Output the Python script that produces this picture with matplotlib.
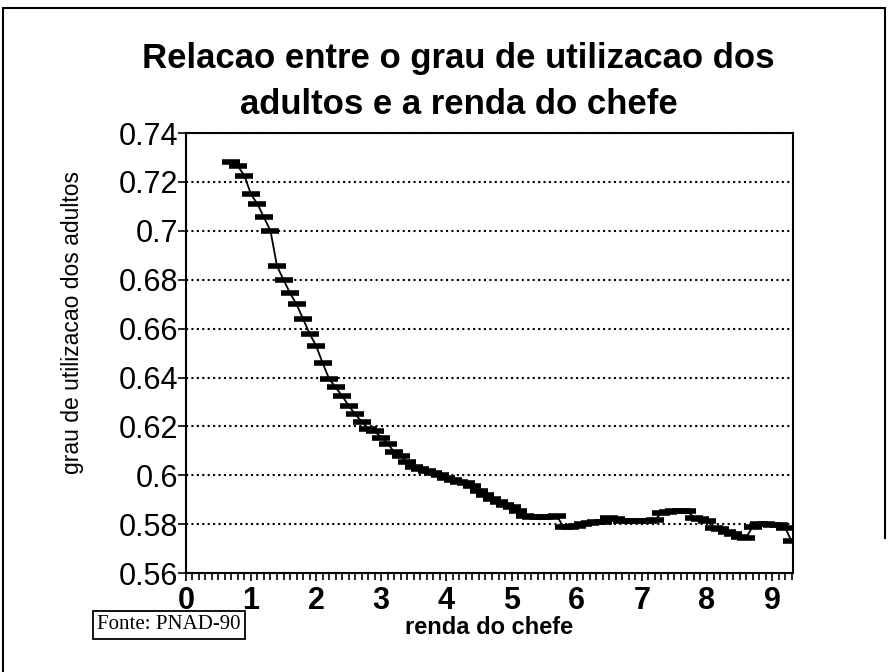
import numpy as np
import matplotlib
matplotlib.use("Agg")
import matplotlib.pyplot as plt
from matplotlib.lines import Line2D

# renda do chefe (x) and grau de utilizacao dos adultos (y)
renda = [0.7, 0.8, 0.9, 1.0, 1.1, 1.2, 1.3, 1.4, 1.5, 1.6,
         1.7, 1.8, 1.9, 2.0, 2.1, 2.2, 2.3, 2.4, 2.5, 2.6,
         2.7, 2.8, 2.9, 3.0, 3.1, 3.2, 3.3, 3.4, 3.5, 3.6,
         3.7, 3.8, 3.9, 4.0, 4.1, 4.2, 4.3, 4.4, 4.5, 4.6,
         4.7, 4.8, 4.9, 5.0, 5.1, 5.2, 5.3, 5.4, 5.5, 5.6,
         5.7, 5.8, 5.9, 6.0, 6.1, 6.2, 6.3, 6.4, 6.5, 6.6,
         6.7, 6.8, 6.9, 7.0, 7.1, 7.2, 7.3, 7.4, 7.5, 7.6,
         7.7, 7.8, 7.9, 8.0, 8.1, 8.2, 8.3, 8.4, 8.5, 8.6,
         8.7, 8.8, 8.9, 9.0, 9.1, 9.2, 9.3]
grau = [0.7280, 0.7265, 0.7225, 0.7150, 0.7110, 0.7055, 0.7000, 0.6856, 0.6800, 0.6745,
        0.6700, 0.6640, 0.6580, 0.6530, 0.6460, 0.6395, 0.6360, 0.6325, 0.6285, 0.6250,
        0.6220, 0.6190, 0.6180, 0.6155, 0.6130, 0.6095, 0.6080, 0.6055, 0.6035, 0.6025,
        0.6020, 0.6010, 0.6000, 0.5990, 0.5980, 0.5975, 0.5970, 0.5957, 0.5935, 0.5920,
        0.5905, 0.5890, 0.5880, 0.5872, 0.5855, 0.5835, 0.5828, 0.5828, 0.5830, 0.5830,
        0.5834, 0.5787, 0.5788, 0.5793, 0.5802, 0.5807, 0.5808, 0.5810, 0.5825, 0.5822,
        0.5815, 0.5813, 0.5815, 0.5813, 0.5815, 0.5817, 0.5848, 0.5852, 0.5855, 0.5856,
        0.5855, 0.5827, 0.5822, 0.5815, 0.5786, 0.5780, 0.5770, 0.5762, 0.5748, 0.5745,
        0.5790, 0.5800, 0.5800, 0.5798, 0.5797, 0.5786, 0.5730]

yticks = [0.56, 0.58, 0.6, 0.62, 0.64, 0.66, 0.68, 0.7, 0.72, 0.74]
ytick_labels = ["0.56", "0.58", "0.6", "0.62", "0.64", "0.66", "0.68", "0.7", "0.72", "0.74"]
xticks = list(range(10))

plt.rcParams['font.family'] = ['Liberation Sans', 'DejaVu Sans']

fig = plt.figure(figsize=(8.89, 6.72), dpi=100)
ax = fig.add_axes([0.209, 0.147, 0.683, 0.655])

ax.plot(renda, grau, color="black", linewidth=1.3,
        marker="_", markersize=13, markeredgewidth=4)

ax.set_xlim(0, 9.32)
ax.set_ylim(0.56, 0.74)
ax.set_yticks(yticks)
ax.set_yticklabels(ytick_labels, fontsize=22)
ax.set_xticks(xticks)
ax.set_xticklabels([str(t) for t in xticks], fontsize=22, fontweight="bold")
ax.set_xticks(np.arange(0, 9.31, 0.1), minor=True)
ax.tick_params(axis="x", which="minor", length=5, width=1.2, direction="out")
ax.tick_params(axis="x", which="major", length=6, width=1.2, pad=3)
ax.tick_params(axis="y", which="major", length=5.5, width=1.2, pad=0)
ax.yaxis.grid(True, linestyle=(0, (1, 1.6)), color="black", linewidth=1.5)
for s in ax.spines.values():
    s.set_linewidth(1.5)

ax.set_xlabel("renda do chefe", fontsize=17, fontweight="bold", labelpad=0)
ax.set_ylabel("grau de utilizacao dos adultos", fontsize=16.5)
ax.yaxis.set_label_coords(-0.168, 0.57)

fig.text(0.516, 0.878, "Relacao entre o grau de utilizacao dos\nadultos e a renda do chefe",
         ha="center", va="center", fontsize=25, fontweight="bold", linespacing=1.5)

fig.text(0.19, 0.07, "Fonte: PNAD-90", ha="center", va="center",
         family=["Liberation Serif", "DejaVu Serif"], fontsize=15,
         bbox=dict(boxstyle="square,pad=0.2", facecolor="white", edgecolor="black", linewidth=1.3))

# page frame
fig.add_artist(Line2D([0.003, 0.995], [0.988, 0.988], color="black", linewidth=1.5, transform=fig.transFigure))
fig.add_artist(Line2D([0.003, 0.003], [0.0, 0.988], color="black", linewidth=1.5, transform=fig.transFigure))
fig.add_artist(Line2D([0.995, 0.995], [0.2, 0.988], color="black", linewidth=1.5, transform=fig.transFigure))

fig.savefig("out.png", dpi=100)
